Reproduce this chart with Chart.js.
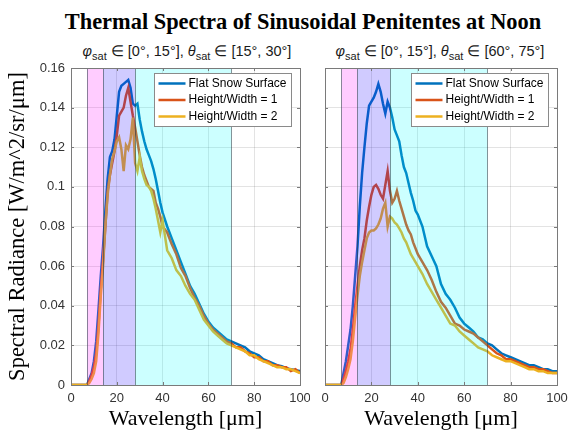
<!DOCTYPE html>
<html>
<head>
<meta charset="utf-8">
<script src="https://cdn.jsdelivr.net/npm/chart.js@4"></script>
<style>
body { margin: 0; background: #fff; }
#wrap { position: relative; width: 568px; height: 433px; overflow: hidden; background: #fff; }
canvas { position: absolute; top: 0; }
.ttl { position: absolute; white-space: nowrap; transform: translateX(-50%); line-height: 1; color: #000; }
#main { left: 303px; top: 9px; font: bold 22.4px "Liberation Serif", "Times New Roman", serif; }
.sub { top: 43px; font: 14.5px "Liberation Sans", Arial, sans-serif; color: #1a1a1a; }
.sub sub { font-size: 11px; vertical-align: -4px; }
</style>
</head>
<body>
<div id="wrap">
  <div id="main" class="ttl">Thermal Spectra of Sinusoidal Penitentes at Noon</div>
  <div class="ttl sub" style="left:187px"><i>φ</i><sub>sat</sub> ∈ [0°, 15°], <i>θ</i><sub>sat</sub> ∈ [15°, 30°]</div>
  <div class="ttl sub" style="left:440px"><i>φ</i><sub>sat</sub> ∈ [0°, 15°], <i>θ</i><sub>sat</sub> ∈ [60°, 75°]</div>
  <canvas id="left" width="310" height="433" style="left:0"></canvas>
  <canvas id="right" width="258" height="433" style="left:310px"></canvas>
</div>
<script>
// wavelength samples (µm)
const wavelength = [0, 7, 8, 9, 10, 11, 12, 13, 14, 15, 16, 17, 18, 19, 20, 21, 22, 23, 24, 25, 26, 27, 28, 29, 30,
    31, 32, 33, 34, 35, 36, 37, 38, 39, 40, 42, 44, 46, 48, 50, 52, 54, 56, 58, 60, 62, 64, 66, 68, 70,
    72, 74, 76, 78, 80, 82, 84, 86, 88, 90, 92, 94, 96, 98, 100];

// theta_sat in [15, 30]
const flatLow = [0, 0, 0.003, 0.006, 0.012, 0.022, 0.038, 0.055, 0.070, 0.088, 0.104, 0.115, 0.118, 0.124, 0.136, 0.148, 0.151, 0.152, 0.153, 0.154, 0.150, 0.142, 0.141, 0.142, 0.134,
    0.128, 0.123, 0.119, 0.116, 0.113, 0.109, 0.104, 0.098, 0.092, 0.087, 0.080, 0.074, 0.068, 0.062, 0.056, 0.050, 0.046, 0.041, 0.036, 0.032, 0.029, 0.027, 0.025, 0.023, 0.022,
    0.021, 0.020, 0.019, 0.017, 0.016, 0.015, 0.013, 0.012, 0.011, 0.010, 0.0095, 0.0085, 0.008, 0.0075, 0.007];
const hw1Low = [0, 0, 0.002, 0.005, 0.009, 0.016, 0.030, 0.048, 0.063, 0.080, 0.098, 0.106, 0.112, 0.118, 0.126, 0.136, 0.138, 0.140, 0.146, 0.150, 0.143, 0.136, 0.130, 0.123, 0.116,
    0.110, 0.106, 0.103, 0.100, 0.099, 0.098, 0.092, 0.089, 0.085, 0.080, 0.077, 0.071, 0.066, 0.059, 0.055, 0.049, 0.044, 0.040, 0.035, 0.031, 0.028, 0.026, 0.024, 0.022, 0.021,
    0.019, 0.019, 0.017, 0.016, 0.014, 0.014, 0.012, 0.012, 0.010, 0.010, 0.009, 0.009, 0.007, 0.008, 0.006];
const hw2Low = [0, 0, 0.001, 0.003, 0.006, 0.012, 0.026, 0.045, 0.060, 0.080, 0.096, 0.106, 0.114, 0.118, 0.123, 0.125, 0.119, 0.108, 0.121, 0.119, 0.124, 0.135, 0.112, 0.108, 0.115,
    0.108, 0.104, 0.101, 0.100, 0.098, 0.094, 0.089, 0.083, 0.077, 0.083, 0.068, 0.064, 0.058, 0.055, 0.050, 0.046, 0.043, 0.038, 0.033, 0.030, 0.027, 0.025, 0.023, 0.021, 0.020,
    0.019, 0.018, 0.017, 0.015, 0.015, 0.013, 0.012, 0.011, 0.010, 0.009, 0.009, 0.008, 0.008, 0.007, 0.006];

// theta_sat in [60, 75]
const flatHigh = [0, 0, 0.006, 0.012, 0.020, 0.028, 0.040, 0.055, 0.070, 0.090, 0.107, 0.120, 0.132, 0.141, 0.143, 0.145, 0.148, 0.152, 0.148, 0.142, 0.137, 0.143, 0.140, 0.135, 0.129,
    0.126, 0.123, 0.116, 0.110, 0.107, 0.102, 0.097, 0.093, 0.088, 0.086, 0.080, 0.070, 0.065, 0.060, 0.051, 0.046, 0.043, 0.039, 0.034, 0.031, 0.029, 0.027, 0.024, 0.023, 0.021,
    0.020, 0.018, 0.016, 0.015, 0.014, 0.013, 0.012, 0.011, 0.010, 0.010, 0.009, 0.008, 0.008, 0.007, 0.007];
const hw1High = [0, 0, 0.003, 0.007, 0.012, 0.018, 0.028, 0.040, 0.050, 0.060, 0.068, 0.074, 0.083, 0.090, 0.096, 0.100, 0.101, 0.099, 0.096, 0.094, 0.101, 0.108, 0.098, 0.092, 0.094,
    0.098, 0.093, 0.089, 0.085, 0.081, 0.078, 0.076, 0.072, 0.069, 0.066, 0.062, 0.058, 0.053, 0.047, 0.042, 0.039, 0.035, 0.031, 0.030, 0.028, 0.027, 0.026, 0.024, 0.022, 0.020,
    0.018, 0.016, 0.015, 0.013, 0.013, 0.012, 0.011, 0.010, 0.009, 0.009, 0.008, 0.008, 0.007, 0.006, 0.006];
const hw2High = [0, 0, 0.001, 0.004, 0.008, 0.013, 0.022, 0.034, 0.045, 0.055, 0.062, 0.068, 0.074, 0.077, 0.078, 0.078, 0.079, 0.081, 0.084, 0.089, 0.092, 0.080, 0.085, 0.084, 0.082,
    0.081, 0.079, 0.077, 0.074, 0.072, 0.069, 0.066, 0.064, 0.062, 0.060, 0.056, 0.051, 0.047, 0.043, 0.039, 0.035, 0.031, 0.030, 0.027, 0.025, 0.023, 0.021, 0.019, 0.018, 0.017,
    0.015, 0.014, 0.013, 0.012, 0.012, 0.011, 0.010, 0.009, 0.008, 0.008, 0.007, 0.007, 0.006, 0.006, 0.006];

const seriesNames = ['Flat Snow Surface', 'Height/Width = 1', 'Height/Width = 2'];
const bandEdges = [7, 14, 28, 70];

const lineColors = ['#0072BD', '#D95319', '#EDB120'];
const bandFill = ['rgba(255,0,255,0.2)', 'rgba(40,20,255,0.22)', 'rgba(0,255,255,0.2)'];
const boxColor = '#7a7a7a';
const sansFont = '"Liberation Sans", Arial, sans-serif';
const serifFont = '"Liberation Serif", "Times New Roman", serif';

// bands, box, inward ticks and legend drawn on top of the lines
const decorPlugin = {
    id: 'decor',
    afterDatasetsDraw(chart) {
        const { ctx, chartArea: a, scales: { x, y } } = chart;
        ctx.save();
        for (let i = 0; i < bandEdges.length - 1; i++) {
            const x0 = x.getPixelForValue(bandEdges[i]);
            const x1 = x.getPixelForValue(bandEdges[i + 1]);
            ctx.fillStyle = bandFill[i];
            ctx.fillRect(x0, a.top, x1 - x0, a.bottom - a.top);
        }
        ctx.strokeStyle = 'rgba(40,60,70,0.55)';
        ctx.lineWidth = 1;
        bandEdges.forEach((e) => {
            const px = Math.round(x.getPixelForValue(e)) + 0.5;
            ctx.beginPath();
            ctx.moveTo(px, a.top);
            ctx.lineTo(px, a.bottom);
            ctx.stroke();
        });

        // axes box
        ctx.strokeStyle = boxColor;
        ctx.strokeRect(Math.round(a.left) + 0.5, Math.round(a.top) + 0.5, Math.round(a.right - a.left), Math.round(a.bottom - a.top));
        ctx.beginPath();
        x.ticks.forEach((t) => {
            const px = Math.round(x.getPixelForValue(t.value)) + 0.5;
            ctx.moveTo(px, a.bottom); ctx.lineTo(px, a.bottom - 3);
            ctx.moveTo(px, a.top); ctx.lineTo(px, a.top + 3);
        });
        y.ticks.forEach((t) => {
            const py = Math.round(y.getPixelForValue(t.value)) + 0.5;
            ctx.moveTo(a.left, py); ctx.lineTo(a.left + 3, py);
            ctx.moveTo(a.right, py); ctx.lineTo(a.right - 3, py);
        });
        ctx.stroke();

        // legend
        const w = 137, h = 53;
        const lx = Math.round(a.right - 9 - w) + 0.5;
        const ly = Math.round(a.top + 5) + 0.5;
        ctx.fillStyle = '#fff';
        ctx.fillRect(lx, ly, w, h);
        ctx.strokeStyle = '#8a8a8a';
        ctx.strokeRect(lx, ly, w, h);
        ctx.font = '12px ' + sansFont;
        ctx.textBaseline = 'middle';
        chart.data.datasets.forEach((ds, i) => {
            const ry = ly + 10 + i * 16.5;
            ctx.strokeStyle = ds.borderColor;
            ctx.lineWidth = 2.5;
            ctx.beginPath();
            ctx.moveTo(lx + 4, ry);
            ctx.lineTo(lx + 31, ry);
            ctx.stroke();
            ctx.fillStyle = '#000';
            ctx.fillText(ds.label, lx + 34, ry);
        });
        ctx.restore();
    }
};

const makeChart = (id, series, showYLabels, yWidth, rightPad) => {
    const datasets = series.map((vals, i) => ({
        label: seriesNames[i],
        data: wavelength.map((w, k) => ({ x: w, y: vals[k] })),
        borderColor: lineColors[i],
        borderWidth: 2.5,
        pointRadius: 0,
        tension: 0,
        fill: false,
        order: series.length - i,
    }));

    return new Chart(document.getElementById(id), {
        type: 'line',
        data: { datasets },
        options: {
            responsive: false,
            animation: false,
            devicePixelRatio: 1,
            layout: { padding: { top: 68, right: rightPad, bottom: 0, left: 0 } },
            plugins: { legend: { display: false }, tooltip: { enabled: false } },
            scales: {
                x: {
                    type: 'linear',
                    min: 0,
                    max: 100,
                    ticks: { stepSize: 20, padding: 6, color: '#333', font: { family: sansFont, size: 13 } },
                    grid: { color: 'rgba(38,38,38,0.13)', drawTicks: false },
                    border: { display: false },
                    title: {
                        display: true,
                        text: 'Wavelength [μm]',
                        color: '#000',
                        font: { family: serifFont, size: 22 },
                        padding: { top: 0, bottom: 1 },
                    },
                    // fixed axis band; the "100" label may overhang the plot box
                    afterFit: (scale) => {
                        scale.height = 48;
                        scale.paddingLeft = 0;
                        scale.paddingRight = 0;
                    },
                },
                y: {
                    min: 0,
                    max: 0.16,
                    ticks: {
                        stepSize: 0.02,
                        display: showYLabels,
                        padding: 6,
                        color: '#333',
                        font: { family: sansFont, size: 13 },
                        callback: (v) => String(+v.toFixed(2)),
                    },
                    grid: { color: 'rgba(38,38,38,0.13)', drawTicks: false },
                    border: { display: false },
                    title: {
                        display: showYLabels,
                        text: 'Spectral Radiance [W/m^2/sr/μm]',
                        color: '#000',
                        font: { family: serifFont, size: 22.5 },
                        padding: { top: 5, bottom: 0 },
                    },
                    afterFit: (scale) => {
                        scale.width = yWidth;
                        scale.paddingTop = 0;
                        scale.paddingBottom = 0;
                    },
                },
            },
        },
        plugins: [decorPlugin],
    });
};

makeChart('left', [flatLow, hw1Low, hw2Low], true, 71, 10);
makeChart('right', [flatHigh, hw1High, hw2High], false, 15, 11);
</script>
</body>
</html>
